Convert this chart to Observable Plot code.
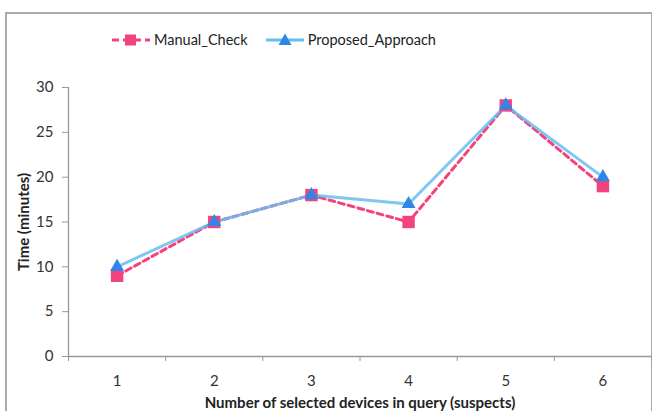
<!DOCTYPE html>
<html>
<head>
<meta charset="utf-8">
<script src="https://cdn.jsdelivr.net/npm/d3@7"></script>
<script src="https://cdn.jsdelivr.net/npm/@observablehq/plot@0.6"></script>
<style>
  html, body { margin: 0; padding: 0; background: #fff; }
  #wrap { position: relative; width: 652px; height: 411px; overflow: hidden; font-family: Lato, "Open Sans", sans-serif; }
  #frame { position: absolute; left: 5px; top: 12px; width: 644px; height: 430px; border: 2px solid #a3adb3; border-bottom: none; box-shadow: 1px 1px 2px #d5dadd; }
  #legend { position: absolute; top: 31px; left: 111px; display: flex; gap: 17px; font-size: 14.5px; color: #222; }
  #legend .item { display: flex; align-items: center; gap: 3px; }
  #chart { position: absolute; left: 0; top: 0; }
  #ytitle { position: absolute; left: 23px; top: 222px; transform: translate(-50%, -50%) rotate(-90deg); font-weight: bold; font-size: 15px; color: #222; white-space: nowrap; }
  #xtitle { position: absolute; left: 60px; width: 600px; top: 393px; text-align: center; font-weight: bold; font-size: 15px; color: #222; }
</style>
</head>
<body>
<div id="wrap">
  <div id="frame"></div>
  <div id="chart"></div>
  <div id="legend"></div>
  <div id="ytitle">Time (minutes)</div>
  <div id="xtitle">Number of selected devices in query (suspects)</div>
</div>
<script>
const devices = [1, 2, 3, 4, 5, 6];
const manualCheck = [9, 15, 18, 15, 28, 19];
const proposedApproach = [10, 15, 18, 17, 28, 20];
const yTicks = [0, 5, 10, 15, 20, 25, 30];
const seriesNames = ["Manual_Check", "Proposed_Approach"];

const pink = "#f2437f";
const blueLine = "#66bdf0";
const blueMark = "#2f86e6";
const axisColor = "#8e9ba3";

const manualData = devices.map((d, i) => ({x: d, y: manualCheck[i]}));
const proposedData = devices.map((d, i) => ({x: d, y: proposedApproach[i]}));
const boundaries = [0.5, ...devices.map(d => d + 0.5)];

const chart = Plot.plot({
  width: 652,
  height: 411,
  marginLeft: 68,
  marginRight: 1,
  marginTop: 87,
  marginBottom: 55,
  style: {background: "transparent", fontFamily: "Lato, 'Open Sans', sans-serif", fontSize: "15px", color: "#333"},
  x: {type: "linear", domain: [0.5, 6.5]},
  y: {domain: [0, 30]},
  marks: [
    Plot.ruleY([0], {stroke: axisColor, strokeWidth: 1.3}),
    Plot.ruleX([0.5], {stroke: axisColor, strokeWidth: 1.3}),
    Plot.axisY({ticks: yTicks, tickSize: 6, tickPadding: 9, stroke: axisColor, label: null, fill: "#333"}),
    Plot.axisX({ticks: boundaries, tickSize: 5, tickFormat: () => "", stroke: axisColor, label: null}),
    Plot.axisX({ticks: devices, tickSize: 0, tickPadding: 19, tickFormat: d => String(d), label: null, fill: "#333"}),
    Plot.line(manualData, {x: "x", y: "y", stroke: pink, strokeWidth: 3, strokeDasharray: "6,4"}),
    Plot.line(proposedData, {x: "x", y: "y", stroke: blueLine, strokeWidth: 3, strokeOpacity: 0.85}),
    Plot.dot(manualData, {x: "x", y: "y", symbol: "square", r: 7, fill: pink, stroke: null}),
    Plot.dot(proposedData, {x: "x", y: "y", symbol: "triangle", r: 5.2, fill: blueMark, stroke: null})
  ]
});
document.getElementById("chart").appendChild(chart);

// Legend
const legend = document.getElementById("legend");
const swatches = [
  `<svg width="40" height="14"><line x1="1" y1="7" x2="39" y2="7" stroke="${pink}" stroke-width="3" stroke-dasharray="7,4"/><rect x="14" y="1.5" width="11" height="11" fill="${pink}"/></svg>`,
  `<svg width="40" height="14"><line x1="1" y1="7" x2="39" y2="7" stroke="${blueLine}" stroke-width="3"/><path d="M20,0.5 L26.5,12 L13.5,12 Z" fill="${blueMark}"/></svg>`
];
seriesNames.forEach((name, i) => {
  const item = document.createElement("div");
  item.className = "item";
  item.innerHTML = swatches[i] + `<span>${name}</span>`;
  legend.appendChild(item);
});
</script>
</body>
</html>
